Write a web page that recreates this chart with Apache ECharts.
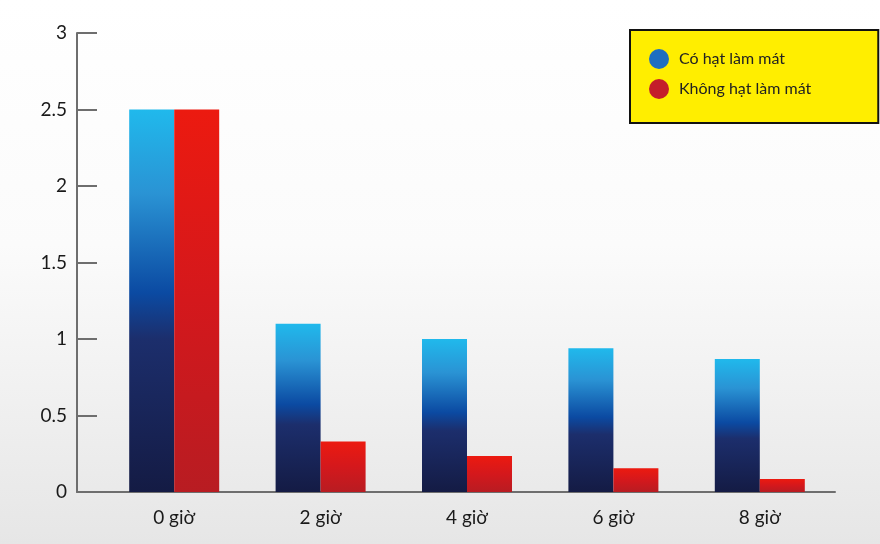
<!DOCTYPE html>
<html>
<head>
<meta charset="utf-8">
<script src="https://cdn.jsdelivr.net/npm/echarts@6/dist/echarts.min.js"></script>
<style>
  html, body { margin: 0; padding: 0; }
  #chart { width: 880px; height: 544px; }
</style>
</head>
<body>
<div id="chart"></div>
<script>
const categories = ["0 giờ", "2 giờ", "4 giờ", "6 giờ", "8 giờ"];
const seriesNames = ["Có hạt làm mát", "Không hạt làm mát"];
const coolingValues = [2.5, 1.1, 1.0, 0.94, 0.87];
const noCoolingValues = [2.5, 0.33, 0.235, 0.155, 0.085];
const yTicks = [0, 0.5, 1, 1.5, 2, 2.5, 3];

const font = "Lato, 'Noto Sans', sans-serif";

const myChart = echarts.init(document.getElementById("chart"), null, { renderer: "canvas" });

const blueGrad = new echarts.graphic.LinearGradient(0, 0, 0, 1, [
  { offset: 0, color: "#20b9ec" },
  { offset: 0.22, color: "#2a93d4" },
  { offset: 0.48, color: "#0b4aa2" },
  { offset: 0.6, color: "#1c2e6c" },
  { offset: 1, color: "#141b44" },
]);
const redGrad = new echarts.graphic.LinearGradient(0, 0, 0, 1, [
  { offset: 0, color: "#ec1a10" },
  { offset: 0.5, color: "#d4181c" },
  { offset: 1, color: "#b81c22" },
]);

const option = {
  backgroundColor: new echarts.graphic.LinearGradient(0, 0, 0, 1, [
    { offset: 0, color: "#ffffff" },
    { offset: 0.45, color: "#fbfbfb" },
    { offset: 1, color: "#e6e6e6" },
  ]),
  animation: false,
  grid: [
    { left: 77, right: 45, top: 33, bottom: 52 },
    { left: 101, right: 47, top: 33, bottom: 52 },
  ],
  legend: {
    orient: "vertical",
    left: 630,
    top: 30,
    icon: "circle",
    itemWidth: 20,
    itemHeight: 20,
    itemGap: 10,
    padding: [19, 67, 24, 19],
    backgroundColor: "#ffee00",
    borderColor: "#111111",
    borderWidth: 2,
    textStyle: { color: "#222222", fontSize: 16, fontFamily: font, padding: [0, 0, 0, 5] },
    data: [
      { name: seriesNames[0], itemStyle: { color: "#1e6ec0" } },
      { name: seriesNames[1], itemStyle: { color: "#c41e2a" } },
    ],
  },
  xAxis: [
    {
      gridIndex: 0,
      type: "value",
      min: 0,
      max: 1,
      axisLine: { show: true, lineStyle: { color: "#6e6e6e", width: 2 } },
      axisTick: { show: false },
      axisLabel: { show: false },
      splitLine: { show: false },
    },
    {
      gridIndex: 1,
      type: "category",
      data: categories,
      axisLine: { show: false },
      axisTick: { show: false },
      axisLabel: {
        margin: 16,
        color: "#1a1a1a",
        fontSize: 19,
        fontFamily: font,
      },
    },
  ],
  yAxis: [
    {
      gridIndex: 0,
      type: "value",
      min: yTicks[0],
      max: yTicks[yTicks.length - 1],
      interval: 0.5,
      axisLine: { show: true, lineStyle: { color: "#6e6e6e", width: 2 } },
      axisTick: { show: true, inside: true, length: 20, lineStyle: { color: "#6e6e6e", width: 2 } },
      axisLabel: {
        margin: 10,
        color: "#1a1a1a",
        fontSize: 19,
        fontFamily: font,
      },
      splitLine: { show: false },
    },
    {
      gridIndex: 1,
      type: "value",
      min: yTicks[0],
      max: yTicks[yTicks.length - 1],
      show: false,
    },
  ],
  series: [
    {
      name: seriesNames[0],
      type: "bar",
      xAxisIndex: 1,
      yAxisIndex: 1,
      barWidth: 45,
      barGap: "0%",
      itemStyle: { color: blueGrad },
      data: coolingValues,
    },
    {
      name: seriesNames[1],
      type: "bar",
      xAxisIndex: 1,
      yAxisIndex: 1,
      barWidth: 45,
      barGap: "0%",
      itemStyle: { color: redGrad },
      data: noCoolingValues,
    },
  ],
};

myChart.setOption(option);
window.addEventListener("resize", () => {
  myChart.resize();
});
</script>
</body>
</html>
